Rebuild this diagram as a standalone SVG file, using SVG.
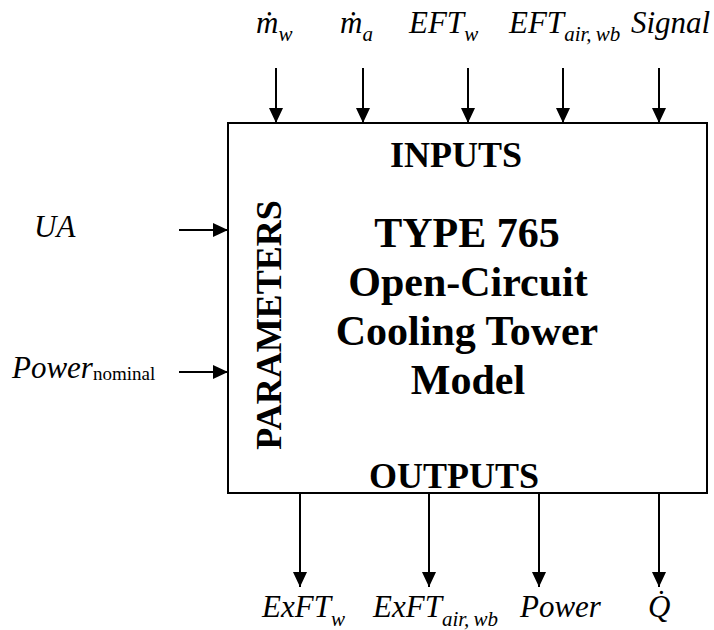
<svg xmlns="http://www.w3.org/2000/svg" width="714" height="630" viewBox="0 0 714 630">
<defs>
<style>
.lbl{font-family:"Liberation Serif","Times New Roman",serif;font-style:italic;font-size:31px;fill:#000}
.sub{font-size:21px}
.up{font-style:normal;font-size:19px}
.hdr{font-family:"Liberation Serif","Times New Roman",serif;font-weight:bold;font-size:36px;fill:#000;text-anchor:middle}
.ttl{font-family:"Liberation Serif","Times New Roman",serif;font-weight:bold;font-size:42px;fill:#000;text-anchor:middle}
.ar{stroke:#000;stroke-width:2;fill:none;marker-end:url(#ah)}
</style>
<marker id="ah" markerUnits="userSpaceOnUse" markerWidth="16" markerHeight="16" viewBox="0 0 16 16" refX="15" refY="8" orient="auto">
<path d="M0,1 L15,8 L0,15 Z" fill="#000"/>
</marker>
</defs>
<g id="block">
<rect x="228" y="123" width="479" height="370" fill="#fff" stroke="#000" stroke-width="2"/>
<text class="hdr" x="456" y="167">INPUTS</text>
<text class="hdr" x="454" y="488">OUTPUTS</text>
<text class="hdr" transform="translate(281,325) rotate(-90)">PARAMETERS</text>
<text class="ttl" x="467" y="247">TYPE 765</text>
<text class="ttl" x="468" y="296">Open-Circuit</text>
<text class="ttl" x="467" y="345">Cooling Tower</text>
<text class="ttl" x="468" y="394">Model</text>
</g>
<g id="connectors">
<line class="ar" x1="276" y1="68" x2="276" y2="123"/>
<line class="ar" x1="363" y1="68" x2="363" y2="123"/>
<line class="ar" x1="468" y1="68" x2="468" y2="123"/>
<line class="ar" x1="563" y1="68" x2="563" y2="123"/>
<line class="ar" x1="659" y1="68" x2="659" y2="123"/>
<line class="ar" x1="300" y1="493" x2="300" y2="587"/>
<line class="ar" x1="429" y1="493" x2="429" y2="587"/>
<line class="ar" x1="539" y1="493" x2="539" y2="587"/>
<line class="ar" x1="659" y1="493" x2="659" y2="587"/>
<line class="ar" x1="179" y1="230" x2="228" y2="230"/>
<line class="ar" x1="179" y1="372" x2="228" y2="372"/>
</g>
<g id="in-mw"><text class="lbl" x="256" y="33">ṁ<tspan class="sub" dy="8">w</tspan></text></g>
<g id="in-ma"><text class="lbl" x="340" y="33">ṁ<tspan class="sub" dy="8">a</tspan></text></g>
<g id="in-eftw"><text class="lbl" x="409" y="33">EFT<tspan class="sub" dy="8">w</tspan></text></g>
<g id="in-eftair"><text class="lbl" x="509" y="33">EFT<tspan class="sub" dy="8">air,&#8201;wb</tspan></text></g>
<g id="in-signal"><text class="lbl" x="631" y="33">Signal</text></g>
<g id="par-ua"><text class="lbl" x="34" y="237">UA</text></g>
<g id="par-power"><text class="lbl" x="12" y="378">Power<tspan class="up" dy="2">nominal</tspan></text></g>
<g id="out-exftw"><text class="lbl" x="262" y="617">ExFT<tspan class="sub" dy="9">w</tspan></text></g>
<g id="out-exftair"><text class="lbl" x="373" y="617">ExFT<tspan class="sub" dy="9">air,&#8201;wb</tspan></text></g>
<g id="out-power"><text class="lbl" x="520" y="617">Power</text></g>
<g id="out-q"><text class="lbl" x="648" y="617">Q̇</text></g>
</svg>
